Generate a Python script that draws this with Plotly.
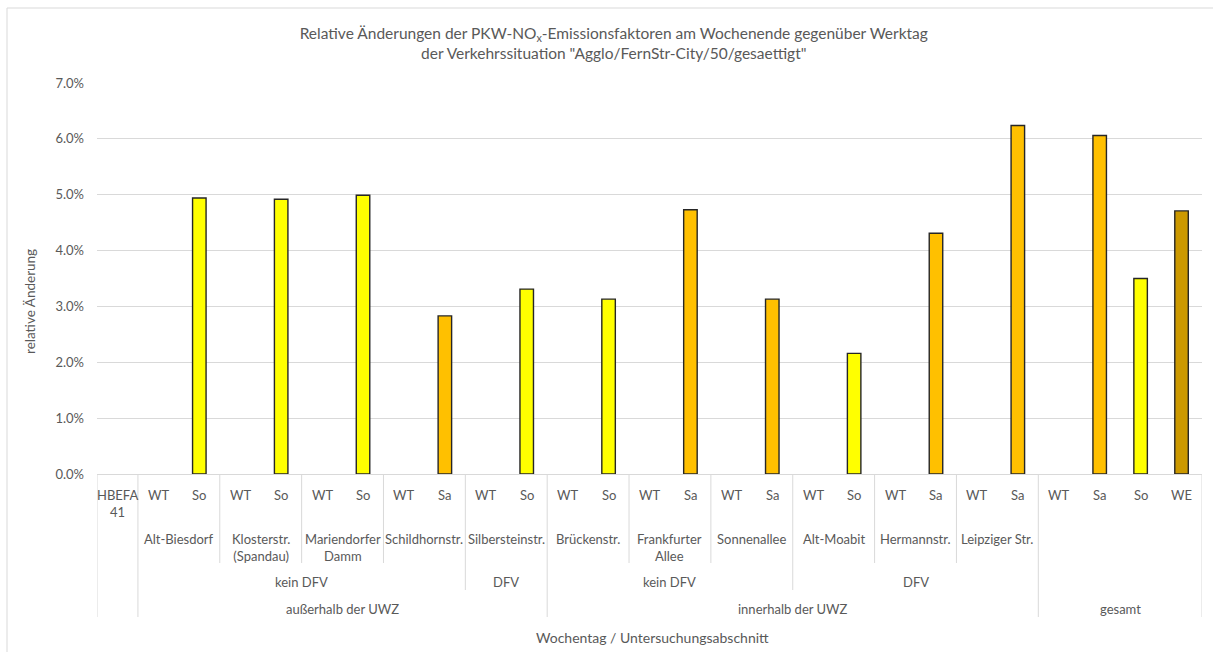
import plotly.graph_objects as go

# ---------------- data ----------------
days = ["HBEFA<br>41",
        "WT", "So", "WT", "So", "WT", "So", "WT", "Sa", "WT", "So",
        "WT", "So", "WT", "Sa", "WT", "Sa", "WT", "So", "WT", "Sa", "WT", "Sa",
        "WT", "Sa", "So", "WE"]
values = [None,
          None, 4.94, None, 4.92, None, 4.99, None, 2.83, None, 3.31,
          None, 3.13, None, 4.73, None, 3.13, None, 2.16, None, 4.31, None, 6.24,
          None, 6.06, 3.50, 4.71]
streets = ["Alt-Biesdorf", "Klosterstr.<br>(Spandau)", "Mariendorfer<br>Damm", "Schildhornstr.",
           "Silbersteinstr.", "Brückenstr.", "Frankfurter<br>Allee", "Sonnenallee",
           "Alt-Moabit", "Hermannstr.", "Leipziger Str."]
dfv_groups = ["kein DFV", "DFV", "kein DFV", "DFV"]
dfv_spans = [(1, 8), (9, 10), (11, 16), (17, 22)]
uwz_groups = ["außerhalb der UWZ", "innerhalb der UWZ", "gesamt"]
uwz_spans = [(1, 10), (11, 22), (23, 26)]
y_ticks = [0, 1, 2, 3, 4, 5, 6, 7]

day_colors = {"So": "#FFFF00", "Sa": "#FFC000", "WE": "#CC9900", "WT": "#FFFF00"}
colors = [day_colors.get(d, "#FFFF00") for d in days]

# ---------------- layout geometry (pixels) ----------------
W, H = 1213, 652
L, R, T, B = 97, 11, 83, 178
plot_h = H - T - B
plot_w = W - L - R
GRAY = "#595959"
LINE = "#D9D9D9"
FONT = "Lato"
FS = 13


def py(p):
    return (H - B - p) / plot_h


def px(p):
    return (p - L) / plot_w


n = len(days)
x_idx = list(range(n))

fig = go.Figure()
fig.add_trace(go.Bar(
    x=x_idx, y=values, width=0.33,
    marker=dict(color=colors, line=dict(color="#262626", width=1.4)),
    showlegend=False, hoverinfo="x+y",
))

annotations = []
shapes = []

# level 1: day labels
for i, d in enumerate(days):
    annotations.append(dict(x=i, y=py(485), xref="x", yref="paper", text=d,
                            showarrow=False, yanchor="top", xanchor="center",
                            font=dict(size=FS, color=GRAY, family=FONT)))
# level 2: streets
for k, s in enumerate(streets):
    xc = 2 * k + 1.5
    annotations.append(dict(x=xc, y=py(529), xref="x", yref="paper", text=s,
                            showarrow=False, yanchor="top", xanchor="center",
                            font=dict(size=FS, color=GRAY, family=FONT)))
# level 3: DFV
for g, (a, b) in zip(dfv_groups, dfv_spans):
    annotations.append(dict(x=(a + b) / 2, y=py(582), xref="x", yref="paper", text=g,
                            showarrow=False, yanchor="middle", xanchor="center",
                            font=dict(size=FS, color=GRAY, family=FONT)))
# level 4: UWZ
for g, (a, b) in zip(uwz_groups, uwz_spans):
    annotations.append(dict(x=(a + b) / 2, y=py(609), xref="x", yref="paper", text=g,
                            showarrow=False, yanchor="middle", xanchor="center",
                            font=dict(size=FS, color=GRAY, family=FONT)))

# separators
full_sep = [-0.5, 0.5, 10.5, 22.5, 26.5]
dfv_sep = [8.5, 16.5]
street_sep = [2.5, 4.5, 6.5, 12.5, 14.5, 18.5, 20.5]
for xs, bottom in [(full_sep, 617), (dfv_sep, 590), (street_sep, 563)]:
    for xv in xs:
        shapes.append(dict(type="line", xref="x", yref="paper", x0=xv, x1=xv,
                           y0=0, y1=py(bottom), line=dict(color=LINE, width=1)))

# chart area border (left & top)
shapes.append(dict(type="line", xref="paper", yref="paper", x0=px(7), x1=px(7),
                   y0=py(8), y1=py(660), line=dict(color=LINE, width=1)))
shapes.append(dict(type="line", xref="paper", yref="paper", x0=px(7), x1=px(1220),
                   y0=py(8), y1=py(8), line=dict(color=LINE, width=1)))

# axis titles
annotations.append(dict(x=px(30), y=py(302), xref="paper", yref="paper",
                        text="relative Änderung", textangle=-90, showarrow=False,
                        xanchor="center", yanchor="middle",
                        font=dict(size=13.5, color=GRAY, family=FONT)))
annotations.append(dict(x=px(652), y=py(637), xref="paper", yref="paper",
                        text="Wochentag / Untersuchungsabschnitt", showarrow=False,
                        xanchor="center", yanchor="middle",
                        font=dict(size=14, color=GRAY, family=FONT)))

fig.update_layout(
    width=W, height=H,
    margin=dict(l=L, r=R, t=T, b=B, autoexpand=False),
    paper_bgcolor="white", plot_bgcolor="white",
    title=dict(text="Relative Änderungen der PKW-NO<sub>x</sub>-Emissionsfaktoren am Wochenende gegenüber Werktag"
                    "<br>der Verkehrssituation \"Agglo/FernStr-City/50/gesaettigt\"",
               x=0.506, xref="container", xanchor="center",
               y=1 - 39 / H, yref="container", yanchor="top",
               font=dict(size=15.5, color=GRAY, family=FONT)),
    xaxis=dict(range=[-0.5, n - 0.5], showticklabels=False, showgrid=False,
               zeroline=False, showline=True, linecolor=LINE, linewidth=1,
               ticks="", fixedrange=True),
    yaxis=dict(range=[0, 7], tickvals=y_ticks, ticktext=[f"{v:.1f}%" for v in y_ticks],
               showgrid=True, gridcolor=LINE, gridwidth=1, zeroline=False,
               showline=False, ticks="", ticklen=0, fixedrange=True,
               ticklabelstandoff=12,
               tickfont=dict(size=FS, color=GRAY, family=FONT)),
    annotations=annotations, shapes=shapes,
    bargap=0.67,
)

fig.write_html("out.html", config={"displayModeBar": False, "staticPlot": True},
               post_script="document.body.style.margin='0px';document.body.style.overflow='hidden';")
